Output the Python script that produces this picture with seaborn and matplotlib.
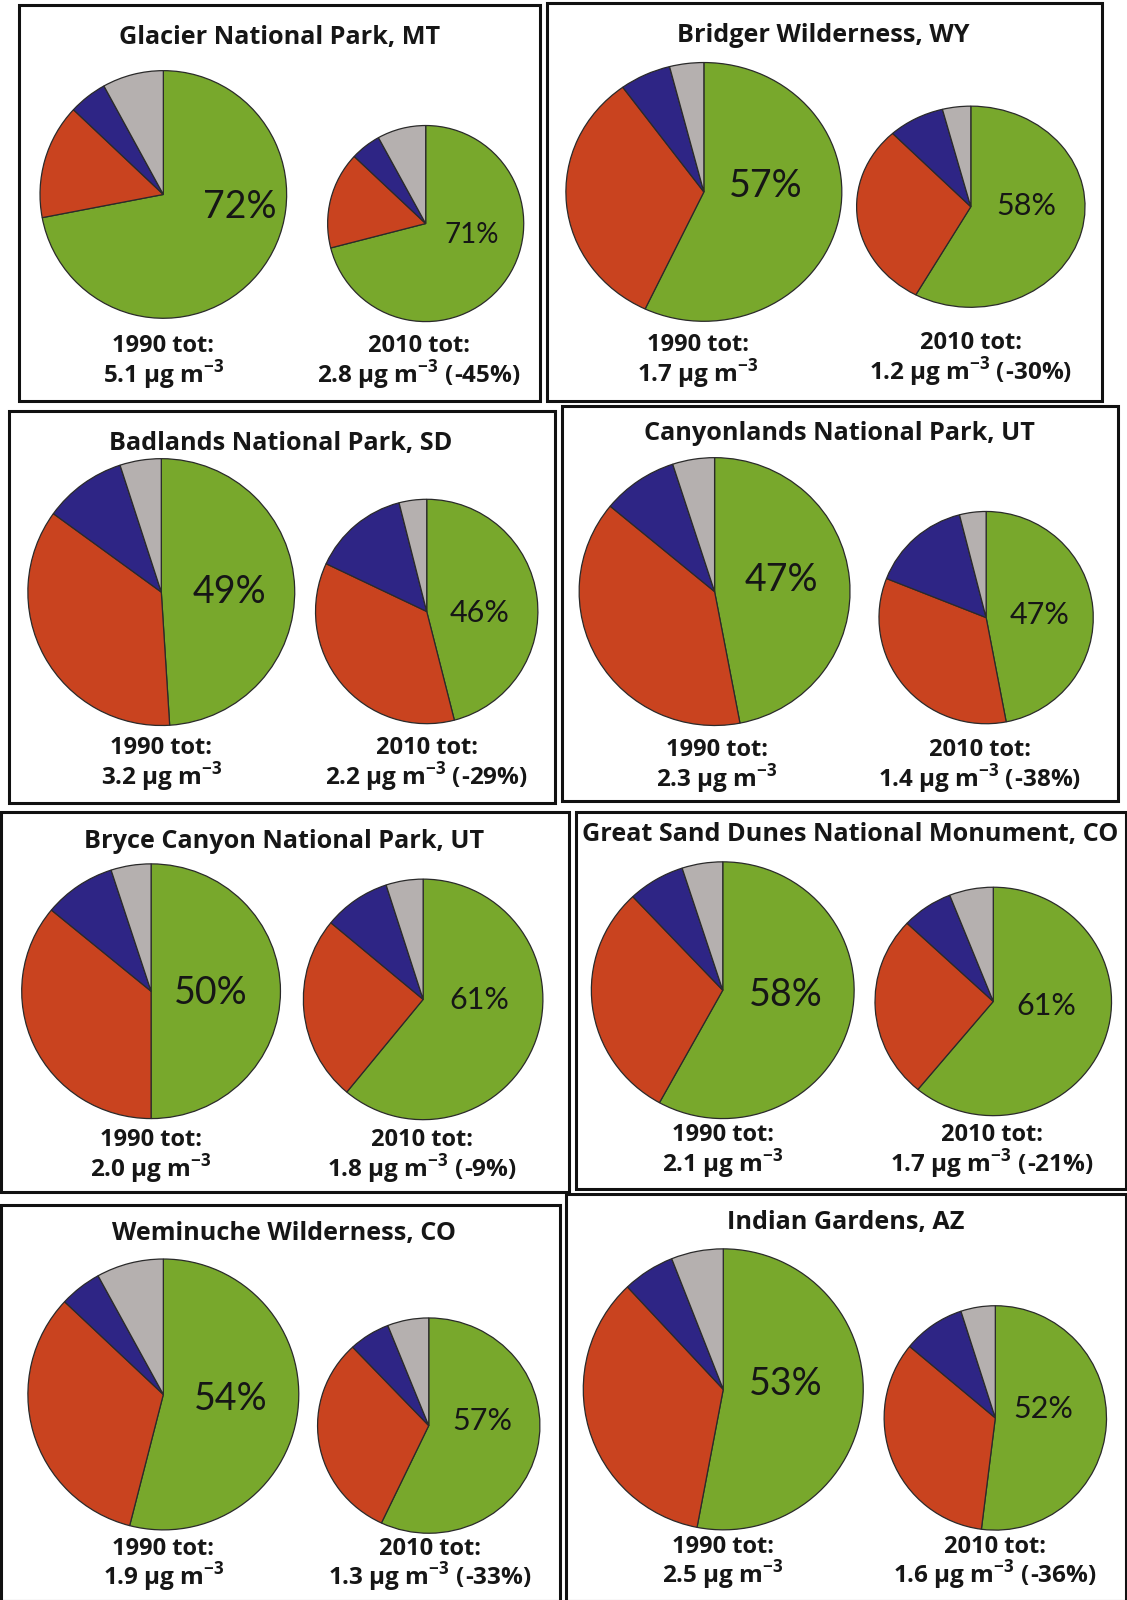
import matplotlib
matplotlib.use('Agg')
import matplotlib.pyplot as plt
from matplotlib.patches import Rectangle
import seaborn as sns

# ==============================================================================
# DADOS
# ==============================================================================
sites = ['Glacier National Park, MT', 'Bridger Wilderness, WY',
         'Badlands National Park, SD', 'Canyonlands National Park, UT',
         'Bryce Canyon National Park, UT', 'Great Sand Dunes National Monument, CO',
         'Weminuche Wilderness, CO', 'Indian Gardens, AZ']

# fatias (%) : verde, vermelho, azul, cinza
green_1990 = [72, 57, 49, 47, 50, 58, 54, 53]
red_1990 = [15, 33, 36, 39, 36, 30, 33, 35]
blue_1990 = [5, 6, 10, 9, 9, 7, 5, 6]
gray_1990 = [8, 4, 5, 5, 5, 5, 8, 6]

green_2010 = [71, 58, 46, 47, 61, 61, 57, 52]
red_2010 = [16, 30, 36, 34, 25, 26, 31, 34]
blue_2010 = [5, 8, 14, 15, 9, 7, 6, 9]
gray_2010 = [8, 4, 4, 4, 5, 6, 6, 5]

tot_1990 = [5.1, 1.7, 3.2, 2.3, 2.0, 2.1, 1.9, 2.5]
tot_2010 = [2.8, 1.2, 2.2, 1.4, 1.8, 1.7, 1.3, 1.6]
change = [-45, -30, -29, -38, -9, -21, -33, -36]

# ==============================================================================
# LAYOUT (medido na referencia reduzida 1104x1568)
# ==============================================================================
boxes = [(18, 5, 530, 393), (535, 3, 1080, 393),
         (8, 403, 545, 787), (550, 398, 1096, 785),
         (0, 795, 558, 1168), (563, 795, 1104, 1165),
         (0, 1180, 550, 1568), (553, 1170, 1104, 1568)]
titles = [(274, 37), (807, 35), (275, 434), (822, 425),
          (278, 824), (833, 817), (278, 1208), (828, 1198)]
# caixa da pizza (x0, y0, x1, y1)
pie_box_1990 = [(38, 68, 282, 313), (553, 60, 826, 316),
                (26, 448, 290, 712), (566, 447, 834, 712),
                (20, 845, 276, 1097), (578, 843, 838, 1097),
                (26, 1232, 294, 1500), (570, 1222, 847, 1500)]
pie_box_2010 = [(320, 122, 514, 316), (838, 103, 1064, 302),
                (308, 488, 528, 710), (860, 500, 1072, 710),
                (296, 860, 533, 1098), (856, 868, 1090, 1094),
                (310, 1290, 530, 1503), (865, 1278, 1085, 1500)]
pct_pos_1990 = [(235, 203), (750, 182), (225, 580), (765, 568),
                (206, 973), (770, 975), (226, 1370), (770, 1356)]
pct_pos_2010 = [(462, 230), (1005, 202), (470, 600), (1018, 602),
                (470, 980), (1025, 985), (472, 1392), (1022, 1380)]
cap_pos_1990 = [(160, 339), (684, 338), (158, 733), (702, 735),
                (148, 1117), (708, 1112), (160, 1517), (708, 1515)]
cap_pos_2010 = [(410, 339), (951, 336), (418, 733), (960, 735),
                (413, 1117), (972, 1112), (421, 1517), (975, 1515)]

S = 1127 / 1104
W, H = 1127, 1600

cores = ['#78A82C', '#C9431F', '#2E2585', '#B5B0AF']
texto = '#161616'
fam = ['Open Sans', 'DejaVu Sans']

sns.set_theme(style='white')
plt.rcParams['font.family'] = fam

fig = plt.figure(figsize=(11.27, 16.0), dpi=100)


def desenha_pizza(vals, caixa):
    x0, y0, x1, y1 = caixa
    axp = fig.add_axes([x0 * S / W, 1 - y1 * S / H,
                        (x1 - x0) * S / W, (y1 - y0) * S / H])
    axp.pie(vals, colors=cores, startangle=90, counterclock=False, radius=1,
            frame=True, wedgeprops=dict(edgecolor='#2a2a2a', linewidth=0.9))
    axp.set_aspect('auto')
    axp.set_xlim(-1.01, 1.01)
    axp.set_ylim(-1.01, 1.01)
    axp.axis('off')


for i in range(len(sites)):
    desenha_pizza([green_1990[i], red_1990[i], blue_1990[i], gray_1990[i]], pie_box_1990[i])
    desenha_pizza([green_2010[i], red_2010[i], blue_2010[i], gray_2010[i]], pie_box_2010[i])

# camada de cima: caixas e textos
ax = fig.add_axes([0, 0, 1, 1])
ax.set_xlim(0, W)
ax.set_ylim(H, 0)
ax.axis('off')

sup = r'$^{\mathregular{-3}}$'
for i in range(len(sites)):
    x0, y0, x1, y1 = boxes[i]
    ax.add_patch(Rectangle((x0 * S + 1, y0 * S), (x1 - x0) * S - 2, (y1 - y0) * S,
                           fill=False, edgecolor='#111111', linewidth=2.2))
    tx, ty = titles[i]
    ax.text(tx * S, ty * S, sites[i], ha='center', va='center', fontsize=18.2,
            color=texto, fontweight='bold')

    px, py = pct_pos_1990[i]
    ax.text(px * S, py * S, f'{green_1990[i]}%', ha='center', va='center',
            fontsize=27, color=texto, family='Lato')
    px, py = pct_pos_2010[i]
    ax.text(px * S, py * S, f'{green_2010[i]}%', ha='center', va='center',
            fontsize=20 if i == 0 else 22, color=texto, family='Lato')

    cx, cy = cap_pos_1990[i]
    ax.text(cx * S, cy * S, '1990 tot:', ha='center', va='center',
            fontsize=17, color=texto, fontweight='bold')
    ax.text(cx * S, (cy + 28) * S, f'{tot_1990[i]:.1f} µg m' + sup, ha='center',
            va='center', fontsize=17.5, color=texto, fontweight='bold')
    cx, cy = cap_pos_2010[i]
    ax.text(cx * S, cy * S, '2010 tot:', ha='center', va='center',
            fontsize=17, color=texto, fontweight='bold')
    ax.text(cx * S, (cy + 28) * S, f'{tot_2010[i]:.1f} µg m' + sup + f' ({change[i]}%)',
            ha='center', va='center', fontsize=17.5, color=texto, fontweight='bold')

fig.savefig('out.png', dpi=100)
